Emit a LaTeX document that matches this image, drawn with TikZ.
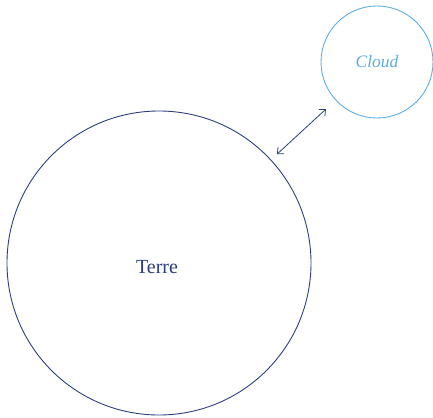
\documentclass[tikz,border=0pt]{standalone}
\usepackage{fontspec}
\setmainfont{Liberation Serif}
\usetikzlibrary{arrows.meta}
\definecolor{navy}{HTML}{2B3F7F}
\definecolor{sky}{HTML}{5DADE2}
\tikzset{
  planet/.style={circle, draw=navy, line width=0.9pt, inner sep=0pt, minimum size=304pt},
  planettext/.style={text=navy, inner sep=0pt, font=\fontsize{20}{24}\selectfont},
  cloudbox/.style={circle, draw=sky, line width=0.9pt, inner sep=0pt, minimum size=112pt, text=sky, font=\fontsize{17.5}{21}\selectfont\itshape},
  link/.style={draw=navy, line width=0.8pt, {Straight Barb[length=5pt,width=9pt]}-{Straight Barb[length=5pt,width=9pt]}}
}
\begin{document}
\begin{tikzpicture}[x=1pt,y=-1pt]
\useasboundingbox (0,0) rectangle (433,417);
\node[planet] (terre) at (159,263) {};
\node[planettext] (terrelabel) at (157,267) {Terre};
\node[cloudbox] (cloud) at (377,62) {Cloud};
\draw[link, shorten <=8pt, shorten >=13pt] (terre) -- (cloud);
\end{tikzpicture}
\end{document}
